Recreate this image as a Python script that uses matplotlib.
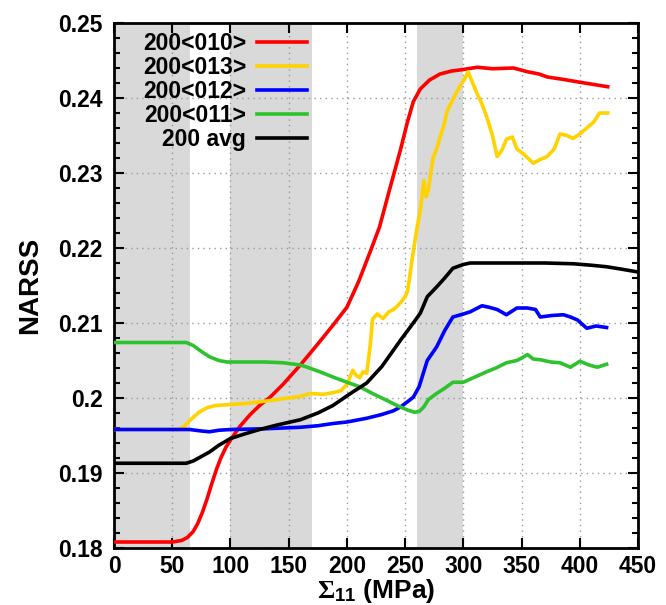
import numpy as np
import matplotlib
matplotlib.use("Agg")
import matplotlib.pyplot as plt
from matplotlib.ticker import MultipleLocator

plt.rcParams['font.family'] = ['Liberation Sans', 'DejaVu Sans']
plt.rcParams['font.weight'] = 'bold'
plt.rcParams['mathtext.fontset'] = 'custom'
plt.rcParams['mathtext.rm'] = 'Liberation Serif'
plt.rcParams['mathtext.it'] = 'Liberation Serif:italic'
plt.rcParams['mathtext.bf'] = 'Liberation Sans:bold'

# stress bands (MPa) shaded in grey
bands = [(0, 65), (100, 170), (260, 300)]

# 200<010>
x_010 = [0, 50, 58, 63, 68, 72, 76, 80, 84, 88, 92, 96, 100, 108, 117, 125, 134, 145, 160, 175,
         188, 200, 210, 220, 228, 237, 246, 252, 257, 263, 271, 280, 290, 300, 312, 325, 343, 355,
         365, 372, 385, 400, 412, 424]
y_010 = [0.1808, 0.1808, 0.1810, 0.1814, 0.1822, 0.1833, 0.1848, 0.1866, 0.1886, 0.1905, 0.1921,
         0.1934, 0.1944, 0.1962, 0.1978, 0.1990, 0.2001, 0.2018, 0.2044, 0.2072, 0.2097, 0.2121,
         0.2155, 0.2195, 0.2228, 0.2280, 0.2331, 0.2368, 0.2395, 0.2412, 0.2424, 0.2432, 0.2436,
         0.2438, 0.2441, 0.2439, 0.2440, 0.2435, 0.2432, 0.2428, 0.2425, 0.2421, 0.2418, 0.2415]

# 200<013>
x_013 = [0, 55, 60, 65, 70, 74, 80, 87, 97, 115, 131, 145, 160, 168, 180, 188, 195, 200, 205, 208,
         211, 214, 217, 220, 222, 226, 231, 236, 240, 243, 246, 250, 252, 254, 256, 258, 260, 263,
         266, 268, 270, 272, 274, 277, 280, 283, 286, 290, 294, 298, 301, 304, 308, 312, 316, 320,
         325, 329, 333, 337, 342, 346, 352, 360, 366, 372, 378, 383, 389, 394, 400, 406, 412, 417, 424]
y_013 = [0.1958, 0.1958, 0.1962, 0.1970, 0.1977, 0.1982, 0.1987, 0.1990, 0.1991, 0.1993, 0.1996,
         0.1999, 0.2002, 0.2006, 0.2005, 0.2007, 0.2010, 0.2018, 0.2037, 0.2030, 0.2027, 0.2035,
         0.2033, 0.2070, 0.2105, 0.2112, 0.2106, 0.2115, 0.2118, 0.2122, 0.2127, 0.2135, 0.2142,
         0.2162, 0.2185, 0.2205, 0.2225, 0.2250, 0.2290, 0.2268, 0.2278, 0.2300, 0.2320, 0.2332,
         0.2348, 0.2362, 0.2382, 0.2395, 0.2407, 0.2418, 0.2425, 0.2435, 0.2420, 0.2405, 0.2392,
         0.2375, 0.2350, 0.2322, 0.2330, 0.2345, 0.2348, 0.2332, 0.2325, 0.2313, 0.2318, 0.2322,
         0.2332, 0.2352, 0.2350, 0.2346, 0.2352, 0.2360, 0.2368, 0.2380, 0.2380]

# 200<012>
x_012 = [0, 65, 75, 82, 90, 100, 130, 160, 175, 188, 200, 217, 230, 240, 246, 252, 257, 262, 269,
         277, 284, 291, 300, 306, 316, 322, 329, 337, 346, 355, 362, 366, 376, 386, 392, 398, 406,
         414, 423]
y_012 = [0.1958, 0.1958, 0.1956, 0.1955, 0.1957, 0.1958, 0.1959, 0.1961, 0.1963, 0.1966, 0.1968,
         0.1973, 0.1978, 0.1983, 0.1988, 0.1995, 0.2001, 0.2015, 0.2050, 0.2068, 0.2090, 0.2108,
         0.2112, 0.2115, 0.2123, 0.2121, 0.2118, 0.2111, 0.2120, 0.2120, 0.2118, 0.2108, 0.2110,
         0.2111, 0.2108, 0.2104, 0.2093, 0.2096, 0.2094]

# 200<011>
x_011 = [0, 62, 68, 75, 82, 90, 97, 110, 130, 145, 160, 166, 175, 188, 200, 211, 222, 234, 243,
         252, 258, 262, 266, 270, 277, 284, 291, 300, 310, 320, 328, 337, 346, 352, 355, 360, 366,
         375, 383, 392, 400, 408, 415, 423]
y_011 = [0.2074, 0.2074, 0.2070, 0.2062, 0.2055, 0.2050, 0.2048, 0.2048, 0.2048, 0.2047, 0.2044,
         0.2041, 0.2036, 0.2028, 0.2021, 0.2015, 0.2006, 0.1997, 0.1990, 0.1984, 0.1981, 0.1982,
         0.1988, 0.1998, 0.2006, 0.2013, 0.2021, 0.2021, 0.2028, 0.2035, 0.2040, 0.2047, 0.2050,
         0.2055, 0.2058, 0.2052, 0.2051, 0.2048, 0.2047, 0.2041, 0.2049, 0.2044, 0.2041, 0.2045]

# 200 avg
x_avg = [0, 62, 68, 75, 82, 90, 100, 112, 125, 140, 160, 175, 188, 203, 217, 230, 246, 257, 263,
         269, 277, 284, 291, 300, 306, 320, 345, 370, 394, 410, 423, 435, 450]
y_avg = [0.1913, 0.1913, 0.1916, 0.1922, 0.1928, 0.1937, 0.1946, 0.1952, 0.1958, 0.1964, 0.1971,
         0.1980, 0.1990, 0.2006, 0.2020, 0.2042, 0.2077, 0.2100, 0.2113, 0.2135, 0.2148, 0.2160,
         0.2173, 0.2178, 0.2180, 0.2180, 0.2180, 0.2180, 0.2179, 0.2177, 0.2175, 0.2172, 0.2168]

series = [
    ("200<010>", x_010, y_010, "#ff0000"),
    ("200<013>", x_013, y_013, "#ffd200"),
    ("200<012>", x_012, y_012, "#0000ff"),
    ("200<011>", x_011, y_011, "#2ec32e"),
    ("200 avg", x_avg, y_avg, "#000000"),
]

fig = plt.figure(figsize=(6.66, 6.05), dpi=100)
ax = fig.add_axes([0.1712, 0.0942, 0.7868, 0.8678])

for a, b in bands:
    ax.axvspan(a, b, color="#d9d9d9", lw=0, zorder=0)

for label, xs, ys, col in series:
    ax.plot(xs, ys, color=col, lw=2.6, label=label, zorder=3)

ax.set_xlim(0, 450)
ax.set_ylim(0.18, 0.25)
ax.xaxis.set_major_locator(MultipleLocator(50))
ax.yaxis.set_minor_locator(MultipleLocator(0.002))
ax.set_yticks(np.arange(0.18, 0.2501, 0.01))
ax.set_yticklabels(["0.18", "0.19", "0.2", "0.21", "0.22", "0.23", "0.24", "0.25"])

ax.tick_params(which="both", direction="in", top=True, right=True, labelsize=16.5, width=1.5)
ax.tick_params(which="major", length=7)
ax.tick_params(which="minor", length=4)
ax.tick_params(axis="x", pad=5)
ax.tick_params(axis="y", pad=8)
for s in ax.spines.values():
    s.set_linewidth(2)

ax.grid(True, which="major", color="#999999", ls=(0, (1, 3)), lw=1, zorder=1)

ax.set_xlabel(r"$\Sigma_{\mathbf{11}}$ (MPa)", fontsize=19, fontweight="bold", labelpad=-1)
ax.set_ylabel("NARSS", fontsize=20, fontweight="bold", labelpad=11)

leg = ax.legend(loc="upper right", bbox_to_anchor=(0.385, 1.0), frameon=False, markerfirst=False,
                fontsize=16.5, handlelength=2.15, handletextpad=0.48, labelspacing=0.04,
                borderaxespad=0.0)

fig.savefig("out.png", dpi=100)
